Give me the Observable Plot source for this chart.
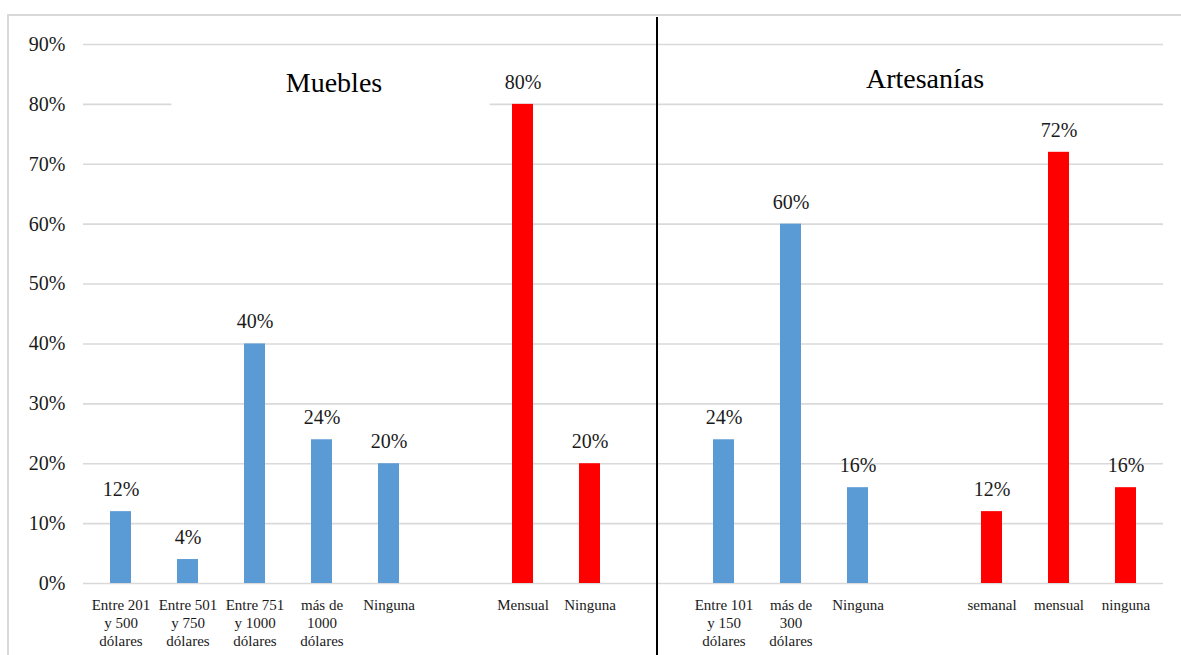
<!DOCTYPE html>
<html lang="es">
<head>
<meta charset="utf-8">
<script src="https://cdn.jsdelivr.net/npm/d3@7"></script>
<script src="https://cdn.jsdelivr.net/npm/@observablehq/plot@0.6"></script>
<style>
  html, body { margin: 0; padding: 0; background: #fff; overflow: hidden; }
  #marco {
    position: absolute; left: 7px; top: 14px; width: 1400px; height: 900px;
    border-top: 2px solid #d9d9d9; border-left: 2px solid #d9d9d9;
  }
  #grafico { position: absolute; left: 0; top: 0; }
  #grafico svg, #grafico svg text, #grafico svg g {
    font-family: "Liberation Serif", "Times New Roman", Times, serif !important;
  }
</style>
</head>
<body>
<div id="marco"></div>
<div id="grafico"></div>
<script>
// Precio pagado y frecuencia de compra, por tipo de producto
const mueblesPrecio = ["Entre 201\ny 500\ndólares", "Entre 501\ny 750\ndólares", "Entre 751\ny 1000\ndólares", "más de\n1000\ndólares", "Ninguna"];
const mueblesPrecioValores = [0.12, 0.04, 0.40, 0.24, 0.20];
const mueblesFrecuencia = ["Mensual", "Ninguna"];
const mueblesFrecuenciaValores = [0.80, 0.20];
const artesaniasPrecio = ["Entre 101\ny 150\ndólares", "más de\n300\ndólares", "Ninguna"];
const artesaniasPrecioValores = [0.24, 0.60, 0.16];
const artesaniasFrecuencia = ["semanal", "mensual", "ninguna"];
const artesaniasFrecuenciaValores = [0.12, 0.72, 0.16];
const titulos = ["Muebles", "Artesanías"];
const yTicks = [0, 0.1, 0.2, 0.3, 0.4, 0.5, 0.6, 0.7, 0.8, 0.9];

const AZUL = "#5b9bd5";
const ROJO = "#ff0000";
const fuente = '"Liberation Serif", "Times New Roman", Times, serif';

// Each bar gets a unique slot id; empty slots separate the groups.
function grupo(prefijo, etiquetas, valores, color) {
  return etiquetas.map((etiqueta, i) => ({id: `${prefijo}-${i}`, etiqueta, valor: valores[i], color}));
}
const mp = grupo("mp", mueblesPrecio, mueblesPrecioValores, AZUL);
const mf = grupo("mf", mueblesFrecuencia, mueblesFrecuenciaValores, ROJO);
const ap = grupo("ap", artesaniasPrecio, artesaniasPrecioValores, AZUL);
const af = grupo("af", artesaniasFrecuencia, artesaniasFrecuenciaValores, ROJO);
const filas = [...mp, ...mf, ...ap, ...af];

const dominio = [
  ...mp.map(d => d.id), "hueco-1", ...mf.map(d => d.id),
  "separador",
  ...ap.map(d => d.id), "hueco-2", ...af.map(d => d.id)
];
const etiquetaDe = new Map(filas.map(d => [d.id, d.etiqueta]));
const pct = d3.format(".0%");

// White text-box behind the "Muebles" title (it hides part of the 80% grid line)
function fondoTitulo(index, scales) {
  const {x, y} = scales;
  const paso = x(dominio[1]) - x(dominio[0]);
  const x0 = x(dominio[1]) - paso / 12;
  const x1 = x(dominio[6]) - paso / 3;
  const y0 = y(0.87), y1 = y(0.78);
  const r = document.createElementNS("http://www.w3.org/2000/svg", "rect");
  r.setAttribute("x", x0); r.setAttribute("width", x1 - x0);
  r.setAttribute("y", y0); r.setAttribute("height", y1 - y0);
  r.setAttribute("fill", "#fff");
  return r;
}

const chart = Plot.plot({
  width: 1181,
  height: 655,
  marginLeft: 83,
  marginRight: 18,
  marginTop: 44,
  marginBottom: 72,
  style: {fontFamily: fuente, color: "#1a1a1a", background: "transparent", overflow: "visible"},
  x: {domain: dominio, paddingInner: 0.69, paddingOuter: 0.345},
  y: {domain: [0, 0.9]},
  marks: [
    Plot.gridY(yTicks, {stroke: "#d9d9d9", strokeOpacity: 1, strokeWidth: 1.6}),
    fondoTitulo,
    Plot.axisY({ticks: yTicks, tickFormat: pct, tickSize: 0, tickPadding: 18, fontSize: 20, label: null, fontFamily: fuente}),
    Plot.axisX({
      tickSize: 0, tickPadding: 13, fontSize: 15, lineHeight: 1.22, label: null, fontFamily: fuente,
      tickFormat: id => etiquetaDe.get(id) ?? ""
    }),
    Plot.barY(filas, {x: "id", y: "valor", fill: "color"}),
    Plot.text(filas, {x: "id", y: "valor", text: d => pct(d.valor), dy: -22, fontSize: 20, fill: "#1a1a1a", fontFamily: fuente}),
    Plot.ruleX(["separador"], {stroke: "#000", strokeWidth: 2, insetTop: -27, insetBottom: -72}),
    Plot.text([titulos[0]], {x: [mp[3].id], text: d => d, frameAnchor: "top", lineAnchor: "middle", dy: 39, dx: 12, fontSize: 28, fill: "#000", fontFamily: fuente}),
    Plot.text([titulos[1]], {x: ["hueco-2"], text: d => d, frameAnchor: "top", lineAnchor: "middle", dy: 35, fontSize: 28, fill: "#000", fontFamily: fuente})
  ]
});
document.getElementById("grafico").appendChild(chart);
</script>
</body>
</html>
